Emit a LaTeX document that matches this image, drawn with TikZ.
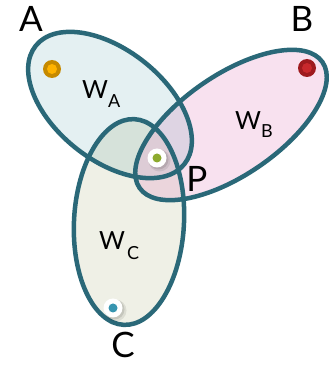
\documentclass[tikz,border=0pt]{standalone}
\usepackage{fontspec}
\setmainfont{Lato}
\definecolor{edge}{HTML}{2A6878}
\definecolor{fA}{HTML}{E4F0F2}
\definecolor{fB}{HTML}{F8E1EF}
\definecolor{fC}{HTML}{EFF0E6}
\definecolor{fAB}{HTML}{DED4E3}
\definecolor{fAC}{HTML}{D6E2DA}
\definecolor{fBC}{HTML}{EBD5DC}
\definecolor{fABC}{HTML}{DDCCD6}
\definecolor{orA}{HTML}{C68A00}
\definecolor{orB}{HTML}{FFB300}
\definecolor{rdA}{HTML}{9E1A1E}
\definecolor{rdB}{HTML}{C8282C}
\definecolor{grn}{HTML}{8DAA2E}
\definecolor{blu}{HTML}{3795B0}
\tikzset{
  outline/.style={draw=edge, line width=4.5pt},
  biglabel/.style={font=\fontsize{35}{40}\selectfont, anchor=base, inner sep=0pt},
  wlabel/.style={font=\fontsize{25}{30}\selectfont, anchor=base, inner sep=0pt},
  sublabel/.style={font=\fontsize{18}{22}\selectfont, anchor=base west, inner sep=0pt},
  dot/.style={circle, inner sep=0pt},
}
\def\ellA{(110,260) ellipse [x radius=95, y radius=55, rotate=-38.5]}
\def\ellB{(231,240) ellipse [x radius=111, y radius=50, rotate=34.5]}
\def\ellC{(129,143) ellipse [x radius=55, y radius=103, rotate=-3]}
\begin{document}
\begin{tikzpicture}[x=1pt, y=1pt]
\useasboundingbox (0,0) rectangle (329,365);
\fill[white] (0,0) rectangle (329,365);
% fills
\fill[fA] \ellA;
\fill[fB] \ellB;
\fill[fC] \ellC;
\begin{scope}
  \clip \ellA;
  \fill[fAB] \ellB;
  \fill[fAC] \ellC;
\end{scope}
\begin{scope}
  \clip \ellB;
  \fill[fBC] \ellC;
  \clip \ellA;
  \fill[fABC] \ellC;
\end{scope}
% outlines
\draw[outline] \ellA;
\draw[outline] \ellB;
\draw[outline] \ellC;
% dots
\node[dot, fill=orA, minimum size=18pt] (dA) at (52,296) {};
\node[dot, fill=orB, minimum size=10pt] (dAi) at (dA) {};
\node[dot, fill=rdA, minimum size=18pt] (dB) at (307,297) {};
\node[dot, fill=rdB, minimum size=10pt] (dBi) at (dB) {};
\fill[black, opacity=0.08] (159.5,204.5) circle (11);
\fill[black, opacity=0.10] (158.5,205.5) circle (10);
\node[dot, fill=white, minimum size=19pt] (dP) at (157,207) {};
\node[dot, fill=grn, minimum size=9pt] (dPi) at (dP) {};
\fill[black, opacity=0.08] (115.5,54.5) circle (11);
\fill[black, opacity=0.10] (114.5,55.5) circle (10);
\node[dot, fill=white, minimum size=19pt] (dC) at (113,57) {};
\node[dot, fill=blu, minimum size=9pt] (dCi) at (dC) {};
% labels
\node[biglabel] (lA) at (31,333) {A};
\node[biglabel] (lB) at (302,333) {B};
\node[biglabel] (lC) at (123,7) {C};
\node[biglabel] (lP) at (197,173) {P};
\node[wlabel] (wA) at (95,266) {W};
\node[sublabel] (sA) at (108,257) {A};
\node[wlabel] (wB) at (248,235) {W};
\node[sublabel] (sB) at (261,227) {B};
\node[wlabel] (wC) at (112,115) {W};
\node[sublabel] (sC) at (127,105) {C};
\end{tikzpicture}
\end{document}
